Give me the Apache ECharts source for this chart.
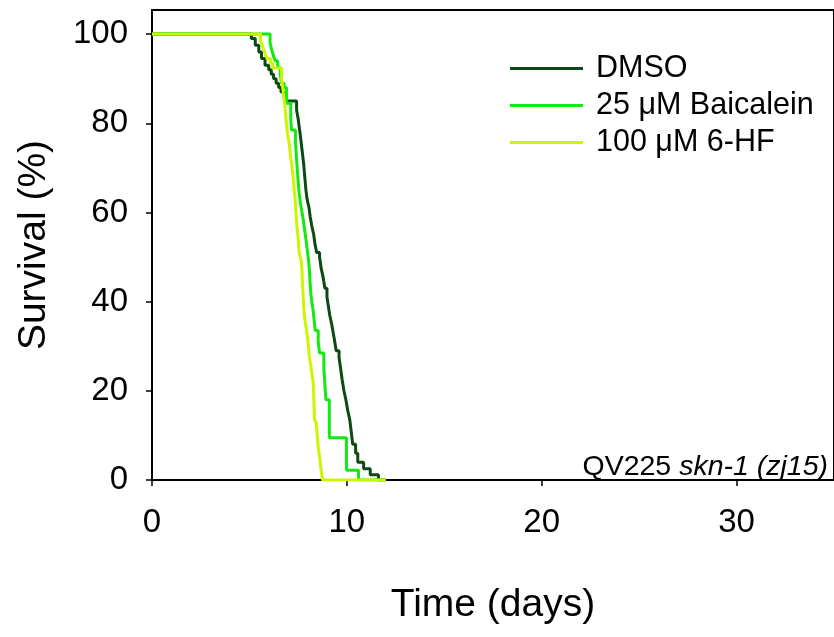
<!DOCTYPE html>
<html>
<head>
<meta charset="utf-8">
<title>Survival</title>
<script src="https://cdn.jsdelivr.net/npm/echarts@6/dist/echarts.min.js"></script>
<style>
  html, body { margin: 0; padding: 0; background: #fff; }
  #main { width: 834px; height: 637px; }
</style>
</head>
<body>
<div id="main"></div>
<script>
// survival steps (time in days, % surviving after that time)
var dmsoTime = [0, 5.1, 5.3, 5.48, 5.62, 5.8, 5.99, 6.12, 6.24, 6.37, 6.5, 6.62, 6.75, 6.88, 7.42, 7.5, 7.56, 7.62, 7.7, 7.78, 7.84, 7.9, 7.96, 8.06, 8.12, 8.2, 8.3, 8.36, 8.45, 8.6, 8.68, 8.78, 8.87, 8.98, 9.05, 9.12, 9.22, 9.3, 9.38, 9.45, 9.6, 9.68, 9.76, 9.85, 9.95, 10.05, 10.15, 10.22, 10.3, 10.45, 10.56, 10.86, 11.2, 11.62, 12];
var dmsoSurv = [100, 99, 97.5, 96, 94.5, 93, 92, 91, 90, 89, 88, 87, 86, 85, 83, 81, 79, 77, 74, 71, 68, 65, 63, 61, 59, 57, 55, 53, 51, 50, 47.5, 45.5, 43, 41, 39, 37, 35, 33, 31, 29, 27.5, 25, 22.5, 20, 18, 15.5, 13.5, 11, 8, 6, 4, 2.5, 1.2, 0, 0];

var baicTime = [0, 6.06, 6.14, 6.24, 6.33, 6.45, 6.58, 6.65, 6.78, 6.9, 7.12, 7.16, 7.36, 7.41, 7.46, 7.5, 7.55, 7.62, 7.68, 7.76, 7.82, 7.9, 7.97, 8.04, 8.08, 8.11, 8.15, 8.2, 8.27, 8.33, 8.38, 8.53, 8.6, 8.82, 8.88, 8.92, 9.1, 9.98, 10.6, 12];
var baicSurv = [100, 98, 96.5, 95, 94, 92.5, 91, 89, 88, 84.5, 81, 78.5, 76, 72.5, 69.5, 67, 64.5, 62, 60.5, 58.5, 56.5, 54, 51.5, 49, 47, 44.5, 42, 40, 38, 35.5, 33.5, 31, 28.5, 25, 21, 18, 9.5, 2.2, 0, 0];

var hfTime = [0, 5.57, 5.66, 5.74, 5.82, 5.9, 6.08, 6.2, 6.65, 6.72, 6.8, 6.86, 6.9, 6.96, 7.04, 7.1, 7.16, 7.22, 7.26, 7.3, 7.35, 7.38, 7.41, 7.46, 7.51, 7.55, 7.65, 7.7, 7.72, 7.75, 7.78, 7.82, 7.88, 7.95, 7.99, 8.04, 8.07, 8.14, 8.2, 8.27, 8.3, 8.32, 8.34, 8.43, 8.48, 8.53, 8.6, 8.67, 8.75, 12];
var hfSurv = [100, 98.5, 97.5, 96.5, 95.5, 94.5, 93.5, 92.4, 90, 87.5, 84.5, 82, 80, 77.5, 75.5, 73, 71, 69, 67, 65, 62.8, 60.5, 58.3, 56, 53.8, 51, 49.3, 47, 44.5, 42, 39.5, 37, 35, 33, 31.5, 29.5, 27.6, 26, 24, 22, 19, 16, 13.5, 12.8, 10, 7.4, 5.2, 2.5, 0, 0];

var seriesNames = ['DMSO', '25 μM Baicalein', '100 μM 6-HF'];
var seriesColors = ['#0b4a12', '#12ea12', '#ccf500'];
var xTicks = [0, 10, 20, 30];
var yTicks = [0, 20, 40, 60, 80, 100];

function pairs(t, s) {
    var out = [];
    for (var i = 0; i < t.length; i++) out.push([t[i], s[i]]);
    return out;
}

var font = 'Liberation Sans, Arial, sans-serif';
var chart = echarts.init(document.getElementById('main'));

var allData = [pairs(dmsoTime, dmsoSurv), pairs(baicTime, baicSurv), pairs(hfTime, hfSurv)];
var series = [];
for (var k = 0; k < 3; k++) {
    series.push({
        name: seriesNames[k],
        type: 'line',
        step: 'end',
        symbol: 'none',
        data: allData[k],
        lineStyle: { color: seriesColors[k], width: 3 },
        itemStyle: { color: seriesColors[k] },
        animation: false
    });
}

chart.setOption({
    animation: false,
    grid: {
        left: 152, top: 10, bottom: 157, right: -8,
        show: true, borderColor: '#000', borderWidth: 2
    },
    legend: {
        orient: 'vertical',
        left: 505, top: 48,
        icon: 'rect',
        itemWidth: 73, itemHeight: 3,
        itemGap: 6,
        textStyle: { fontFamily: font, fontSize: 30.5, color: '#000', padding: [0, 0, 0, 8] },
        data: seriesNames
    },
    xAxis: {
        type: 'value', min: 0, max: 35, interval: 10,
        name: 'Time (days)', nameLocation: 'middle', nameGap: 106,
        nameTextStyle: { fontFamily: font, fontSize: 39, color: '#000' },
        axisLine: { lineStyle: { color: '#000', width: 2 } },
        axisTick: { show: true, length: 6, customValues: xTicks, lineStyle: { color: '#000', width: 1.5 } },
        axisLabel: { customValues: xTicks, fontFamily: font, fontSize: 33, color: '#000', margin: 26 },
        splitLine: { show: false }
    },
    yAxis: {
        type: 'value', min: 0, max: 105.4,
        name: 'Survival (%)', nameLocation: 'middle', nameGap: 98,
        nameTextStyle: { fontFamily: font, fontSize: 39, color: '#000' },
        axisLine: { lineStyle: { color: '#000', width: 2 } },
        axisTick: { show: true, length: 6, customValues: yTicks, lineStyle: { color: '#000', width: 1.5 } },
        axisLabel: { customValues: yTicks, fontFamily: font, fontSize: 33, color: '#000', margin: 24 },
        splitLine: { show: false }
    },
    graphic: [{
        type: 'text',
        right: 6, top: 453,
        style: {
            text: 'QV225 {i|skn-1 (zj15)}',
            font: '28.5px ' + font,
            fill: '#000',
            rich: { i: { fontStyle: 'italic', fontSize: 28.5, fontFamily: font } }
        }
    }],
    series: series
});
</script>
</body>
</html>
